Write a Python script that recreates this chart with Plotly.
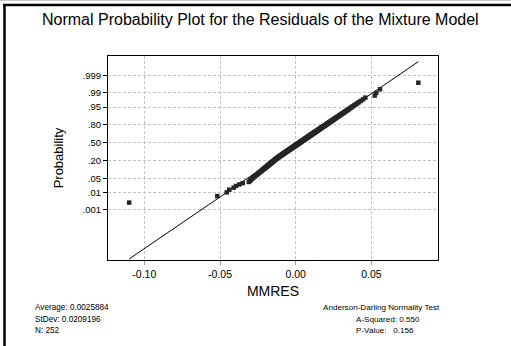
import plotly.graph_objects as go
from statistics import NormalDist

# ---------------- data ----------------
residuals = [
    -0.1100, -0.0518, -0.0456, -0.0439, -0.0410, -0.0394, -0.0372, -0.0350,
    -0.0310, -0.0302, -0.0298, -0.0290, -0.0285,
    -0.0279, -0.0273, -0.0268, -0.0262, -0.0256, -0.0251, -0.0247, -0.0242,
    -0.0238, -0.0233, -0.0228, -0.0225, -0.0221, -0.0217, -0.0213, -0.0209,
    -0.0206, -0.0202, -0.0199, -0.0196, -0.0192, -0.0189, -0.0187, -0.0183,
    -0.0180, -0.0177,
    -0.0174, -0.0171, -0.0168, -0.0166, -0.0163, -0.0160, -0.0157, -0.0155,
    -0.0152, -0.0150, -0.0147, -0.0145, -0.0142, -0.0140, -0.0137, -0.0135,
    -0.0133, -0.0131, -0.0128, -0.0126, -0.0124, -0.0121, -0.0119, -0.0116,
    -0.0114, -0.0111, -0.0108, -0.0106, -0.0103, -0.0101, -0.0098, -0.0096,
    -0.0093, -0.0091, -0.0088, -0.0086, -0.0084, -0.0082, -0.0079, -0.0077,
    -0.0075, -0.0073, -0.0070, -0.0068, -0.0065, -0.0063, -0.0061, -0.0059,
    -0.0056, -0.0054, -0.0052, -0.0050, -0.0048, -0.0045, -0.0043, -0.0041,
    -0.0039, -0.0037, -0.0034, -0.0032, -0.0030, -0.0028, -0.0026, -0.0023,
    -0.0021, -0.0019, -0.0017, -0.0015, -0.0013, -0.0011, -0.0009, -0.0007,
    -0.0005, -0.0002, 0.0000, 0.0002, 0.0004, 0.0006, 0.0008, 0.0010,
    0.0012, 0.0014, 0.0016, 0.0019, 0.0021, 0.0023, 0.0025, 0.0027,
    0.0029, 0.0031, 0.0033, 0.0035, 0.0037, 0.0039, 0.0041, 0.0043,
    0.0045, 0.0047, 0.0050, 0.0052, 0.0054, 0.0056, 0.0058, 0.0060,
    0.0062, 0.0064, 0.0067, 0.0069, 0.0071, 0.0073, 0.0075, 0.0077,
    0.0079, 0.0082, 0.0084, 0.0086, 0.0088, 0.0090, 0.0092, 0.0094,
    0.0097, 0.0099, 0.0101, 0.0104, 0.0106, 0.0108, 0.0110, 0.0112,
    0.0115, 0.0117, 0.0119, 0.0122, 0.0124, 0.0126, 0.0129, 0.0131,
    0.0133, 0.0136, 0.0138, 0.0140, 0.0143, 0.0145, 0.0148, 0.0150,
    0.0153, 0.0155, 0.0158, 0.0160, 0.0163, 0.0166, 0.0168, 0.0171,
    0.0173, 0.0176, 0.0179, 0.0181, 0.0184, 0.0187, 0.0190, 0.0193,
    0.0196, 0.0199, 0.0202, 0.0204, 0.0207, 0.0210, 0.0213, 0.0216,
    0.0220, 0.0223, 0.0226, 0.0230, 0.0233, 0.0236, 0.0240, 0.0243,
    0.0247, 0.0251, 0.0254, 0.0258, 0.0262, 0.0266, 0.0270, 0.0274,
    0.0279, 0.0283, 0.0288, 0.0292, 0.0297, 0.0302, 0.0307, 0.0312,
    0.0318, 0.0323, 0.0329, 0.0335, 0.0342, 0.0348, 0.0354, 0.0362,
    0.0369, 0.0377, 0.0386, 0.0396, 0.0407, 0.0417, 0.0430, 0.0445,
    0.0460, 0.0522, 0.0532, 0.0557, 0.0810,
]

average = 0.0025884
stdev = 0.0209196
n_obs = 252
a_squared = 0.550
p_value = 0.156

prob_ticks = [0.001, 0.01, 0.05, 0.20, 0.50, 0.80, 0.95, 0.99, 0.999]
prob_labels = [".001", ".01", ".05", ".20", ".50", ".80", ".95", ".99", ".999"]
x_ticks = [-0.10, -0.05, 0.00, 0.05]
x_labels = ["-0.10", "-0.05", "0.00", "0.05"]

title_text = "Normal Probability Plot for the Residuals of the Mixture Model"
x_title = "MMRES"
y_title = "Probability"

# ---------------- derived (probability scale) ----------------
nd = NormalDist()
xs = sorted(residuals)
n = len(xs)
zs = [nd.inv_cdf((i + 1 - 0.3) / (n + 0.4)) for i in range(n)]
tick_z = [nd.inv_cdf(p) for p in prob_ticks]
line_x = [xs[0], xs[-1]]
line_z = [(v - average) / stdev for v in line_x]

W, H = 511, 346
L, R, T, B = 108, 438, 56, 260


def px(x):
    return (x - L) / (R - L)


def py(y):
    return (B - y) / (B - T)


FONT = "Liberation Sans, Arial, sans-serif"

fig = go.Figure()
fig.add_trace(go.Scatter(x=line_x, y=line_z, mode="lines",
                         line=dict(color="black", width=1), hoverinfo="skip"))
fig.add_trace(go.Scatter(x=xs, y=zs, mode="markers",
                         marker=dict(symbol="square", size=4.5, color="#262626",
                                     line=dict(width=0))))

annos = [
    dict(text=title_text, x=px(260), y=py(20), size=16, xanchor="center"),
    dict(text=f"Average: {average}", x=px(33), y=py(307), size=8.2, xanchor="left"),
    dict(text=f"StDev: {stdev}", x=px(33), y=py(319), size=8.2, xanchor="left"),
    dict(text=f"N: {n_obs}", x=px(33), y=py(330), size=8.2, xanchor="left"),
    dict(text="Anderson-Darling Normality Test", x=px(321), y=py(307), size=8.1, xanchor="left"),
    dict(text=f"A-Squared: {a_squared:.3f}", x=px(354), y=py(319), size=8.1, xanchor="left"),
    dict(text=f"P-Value:   {p_value:.3f}".replace(" ", "&nbsp;"), x=px(354), y=py(330), size=8.1, xanchor="left"),
]
annotations = [dict(text=a["text"], x=a["x"], y=a["y"], xref="paper", yref="paper",
                    xanchor=a["xanchor"], yanchor="middle", showarrow=False,
                    font=dict(family=FONT, size=a["size"], color="black"))
               for a in annos]

shapes = [
    dict(type="line", xref="paper", yref="paper", x0=px(0), x1=px(511), y0=py(0.5), y1=py(0.5),
         line=dict(color="#c8c8c8", width=1)),
    dict(type="line", xref="paper", yref="paper", x0=px(3), x1=px(511), y0=py(5), y1=py(5),
         line=dict(color="black", width=2.5)),
    dict(type="line", xref="paper", yref="paper", x0=px(4.5), x1=px(4.5), y0=py(4), y1=py(346),
         line=dict(color="black", width=2.5)),
]

fig.update_layout(
    width=W, height=H,
    margin=dict(l=L, r=W - R, t=T, b=H - B, pad=0),
    paper_bgcolor="white", plot_bgcolor="white",
    showlegend=False,
    font=dict(family=FONT, color="black"),
    annotations=annotations,
    shapes=shapes,
    xaxis=dict(range=[-0.124, 0.094], tickvals=x_ticks, ticktext=x_labels,
               showgrid=True, gridcolor="#c4c4c4", griddash="3px,2px", gridwidth=1,
               zeroline=False, showline=True, linecolor="black", linewidth=1, mirror=True,
               ticks="outside", ticklen=4, tickcolor="#999999",
               tickfont=dict(family=FONT, size=10.5),
               title=dict(text=x_title, font=dict(family=FONT, size=14), standoff=7)),
    yaxis=dict(range=[-5.43, 4.01], tickvals=tick_z, ticktext=prob_labels,
               showgrid=True, gridcolor="#c4c4c4", griddash="3px,2px", gridwidth=1,
               zeroline=False, showline=True, linecolor="black", linewidth=1, mirror=True,
               ticks="outside", ticklen=4, tickcolor="black",
               tickfont=dict(family=FONT, size=9.5),
               title=dict(text=y_title, font=dict(family=FONT, size=13), standoff=16)),
)

fig.write_html("out.html", config=dict(displayModeBar=False))
